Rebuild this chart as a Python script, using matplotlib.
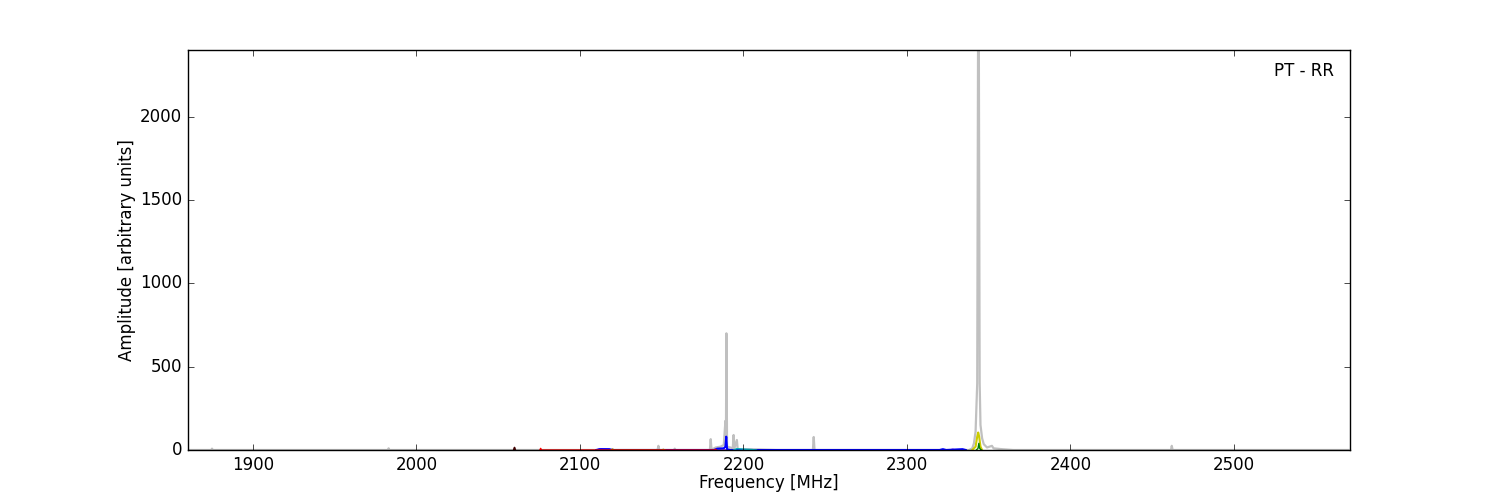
import matplotlib
matplotlib.use("Agg")
import matplotlib.pyplot as plt

# ---- data ----
gray_freq = [1860, 1874.5, 1875, 1875.5, 1982.5, 1983, 1983.5, 2147.5, 2148, 2148.5,
             2157.5, 2158, 2158.5, 2179.5, 2180, 2180.5, 2183, 2186, 2188, 2189, 2189.3,
             2189.6, 2190, 2192, 2193.5, 2194, 2194.5, 2196, 2196.5, 2200, 2210, 2220,
             2242.5, 2243, 2243.5, 2338, 2340, 2341, 2342, 2343, 2343.5, 2344, 2344.5,
             2345, 2346, 2347, 2349, 2352, 2353, 2358, 2365, 2461.5, 2462, 2462.5, 2570]
gray_amp = [0, 0, 8, 0, 0, 10, 0, 0, 25, 0,
            0, 8, 0, 0, 65, 2, 15, 20, 30, 175, 30,
            700, 20, 15, 10, 90, 10, 60, 5, 5, 3, 0,
            0, 78, 0, 0, 10, 40, 110, 400, 2400, 2400, 400,
            150, 70, 35, 15, 25, 10, 5, 0, 0, 25, 0, 0]

blue_freq = [2110, 2112, 2118, 2120, 2182, 2184, 2188, 2189, 2189.5, 2190, 2192,
             2320, 2322, 2324, 2330, 2334, 2336]
blue_amp = [0, 5, 5, 0, 0, 8, 10, 20, 80, 5, 0,
            0, 5, 0, 3, 5, 0]

yellow_freq = [2340, 2342, 2343, 2343.6, 2344.2, 2345, 2346]
yellow_amp = [0, 20, 80, 105, 80, 20, 0]

green_freq = [2342.5, 2343.5, 2344, 2344.5, 2345.5]
green_amp = [0, 10, 40, 10, 0]

red_freq = [2075.5, 2076, 2076.5, 2182.5, 2183, 2183.5]
red_amp = [0, 10, 0, 0, 4, 0]

black_freq = [2059.5, 2060, 2060.5]
black_amp = [0, 15, 0]

cyan_freq = [2194, 2196, 2200, 2205, 2208]
cyan_amp = [0, 8, 5, 3, 0]

purple_freq = [2110, 2113, 2117, 2120, 2326, 2328, 2330]
purple_amp = [0, 6, 4, 0, 0, 4, 0]

olive_freq = [2119, 2120, 2121, 2150, 2151, 2152]
olive_amp = [0, 6, 0, 0, 4, 0]

x_limits = (1860, 2571)
y_limits = (0, 2400)

# ---- plot ----
plt.style.use("classic")
fig = plt.figure(figsize=(15, 5), dpi=100, facecolor="white")
ax = fig.add_subplot(111)

ax.plot(gray_freq, gray_amp, color="#c0c0c0", lw=1.6)
ax.plot(purple_freq, purple_amp, color="#8000c0", lw=1)
ax.plot(blue_freq, blue_amp, color="#0000ff", lw=1.5)
ax.plot(cyan_freq, cyan_amp, color="#00b0c0", lw=1)
ax.plot(olive_freq, olive_amp, color="#808000", lw=1)
ax.plot(red_freq, red_amp, color="#ff0000", lw=1)
ax.plot(black_freq, black_amp, color="#400000", lw=1.2)
ax.plot(yellow_freq, yellow_amp, color="#cccc00", lw=1.5)
ax.plot(green_freq, green_amp, color="#008000", lw=1)

ax.set_xlim(*x_limits)
ax.set_ylim(*y_limits)
ax.set_xlabel("Frequency [MHz]", labelpad=0)
ax.set_ylabel("Amplitude [arbitrary units]", labelpad=3)
ax.text(0.986, 0.97, "PT - RR", transform=ax.transAxes, ha="right", va="top")

fig.savefig("out.png", dpi=100, facecolor="white")
